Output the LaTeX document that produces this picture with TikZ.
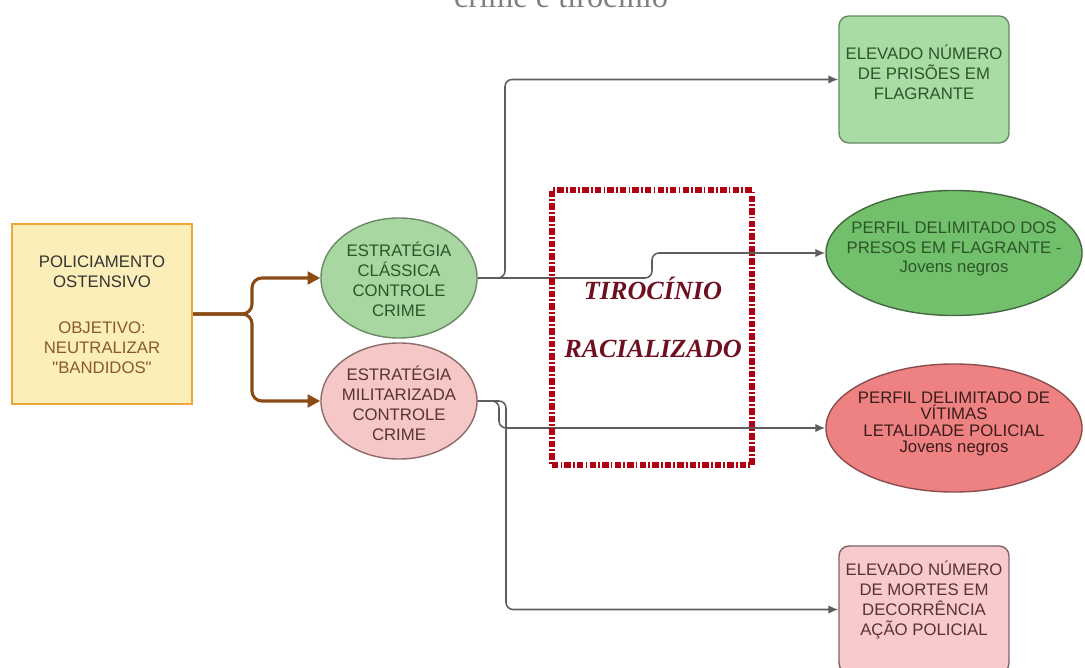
\documentclass[tikz,border=0pt]{standalone}
\usepackage{fontspec}
\setmainfont{Liberation Sans}[Ligatures=TeXOff]
\newfontfamily\serifA{Liberation Serif}
\usetikzlibrary{arrows.meta,shapes.geometric}
\definecolor{ybox}{HTML}{FCEEB8}
\definecolor{ybord}{HTML}{EFA53A}
\definecolor{brownA}{HTML}{8A4B14}
\definecolor{gfillA}{HTML}{A8D7A1}
\definecolor{gbordA}{HTML}{6A8A66}
\definecolor{pfillA}{HTML}{F6C7C7}
\definecolor{pbordA}{HTML}{8E6A6A}
\definecolor{gfillB}{HTML}{A9DCA5}
\definecolor{gfillC}{HTML}{72C06B}
\definecolor{gbordC}{HTML}{44683F}
\definecolor{rfillC}{HTML}{EE8282}
\definecolor{rbordC}{HTML}{8A4E4E}
\definecolor{pfillB}{HTML}{F8CACE}
\definecolor{pbordB}{HTML}{7E6464}
\definecolor{gtext}{HTML}{2C5628}
\definecolor{ptext}{HTML}{5A3232}
\definecolor{rtext}{HTML}{3A1C1C}
\definecolor{btext}{HTML}{8A5A2A}
\definecolor{reddash}{HTML}{B00012}
\definecolor{tirtext}{HTML}{6E1020}
\definecolor{connA}{HTML}{5E5E5E}
\tikzset{
  txt/.style={align=center,inner sep=0pt,font=\fontsize{11.9}{14.2}\selectfont},
  conn/.style={draw=connA,line width=1.1pt,rounded corners=5pt,-{Latex[length=7pt,width=6pt]}},
  bconn/.style={draw=brownA,line width=2.2pt,rounded corners=7pt,-{Triangle[length=9pt,width=9pt]}},
  shp/.style={inner sep=0pt,line width=1pt},
}
\begin{document}
\begin{tikzpicture}[x=0.025cm,y=-0.025cm]
\useasboundingbox (0,0) rectangle (1085,668);
\clip (0,0) rectangle (1085,668);
\fill[white] (0,0) rectangle (1085,668);
% title (cut off)
\node[anchor=base,text=black!50,font=\serifA\fontsize{23}{26}\selectfont,inner sep=0pt] (title) at (561,8) {crime e tirocínio};
% left box
\node[shp,draw=ybord,fill=ybox,line width=1.6pt,minimum width=4.5cm,minimum height=4.5cm] (lb) at (102,314) {};
\node[txt,text=black!80] (lbt1) at (102,272) {POLICIAMENTO\\OSTENSIVO};
\node[txt,text=btext] (lbt2) at (102,348) {OBJETIVO:\\NEUTRALIZAR\\"BANDIDOS"};
% strategy ellipses
\node[shp,ellipse,draw=gbordA,fill=gfillA,minimum width=3.9cm,minimum height=3.0cm] (gE) at (399,278) {};
\node[txt,text=gtext] (gEt) at (399,279) {ESTRATÉGIA\\CLÁSSICA\\CONTROLE\\CRIME};
\node[shp,ellipse,draw=pbordA,fill=pfillA,minimum width=3.9cm,minimum height=2.9cm] (pE) at (399,401) {};
\node[txt,text=ptext] (pEt) at (399,403) {ESTRATÉGIA\\MILITARIZADA\\CONTROLE\\CRIME};
% right side
\node[shp,draw=gbordA,fill=gfillB,rounded corners=0.25cm,minimum width=4.25cm,minimum height=3.175cm] (b1) at (924,79.5) {};
\node[txt,text=gtext] (b1t) at (924,72) {ELEVADO NÚMERO\\DE PRISÕES EM\\FLAGRANTE};
\node[shp,ellipse,draw=gbordC,fill=gfillC,minimum width=6.4cm,minimum height=3.125cm] (e3) at (954,253) {};
\node[txt,text=gtext,font=\fontsize{11.9}{13.6}\selectfont] (e3t) at (954,249) {PERFIL DELIMITADO DOS\\PRESOS EM FLAGRANTE -\\Jovens negros};
\node[shp,ellipse,draw=rbordC,fill=rfillC,minimum width=6.4cm,minimum height=3.2cm] (e4) at (954,428) {};
\node[txt,text=rtext,font=\fontsize{11.9}{11.6}\selectfont] (e4t) at (954,424) {PERFIL DELIMITADO DE\\VÍTIMAS\\LETALIDADE POLICIAL\\Jovens negros};
\node[shp,draw=pbordB,fill=pfillB,rounded corners=0.25cm,minimum width=4.25cm,minimum height=3.175cm] (b4) at (924,609.5) {};
\node[txt,text=ptext] (b4t) at (924,600) {ELEVADO NÚMERO\\DE MORTES EM\\DECORRÊNCIA\\AÇÃO POLICIAL};
% junction coordinates
\coordinate (jb) at (252,0);
\coordinate (j1) at (505,0);
\coordinate (j2) at (652,0);
\coordinate (j3) at (506,0);
\coordinate (j4) at (499,0);
% brown connectors
\draw[bconn] (lb.east) -- (lb.east -| jb) |- (gE.west);
\draw[bconn] (lb.east) -- (lb.east -| jb) |- (pE.west);
% gray connectors
\draw[conn] (gE.east) -- (gE.east -| j1) |- (b1.west);
\draw[conn] (gE.east) -- (gE.east -| j2) |- (e3.west);
\draw[conn] (pE.east) -- (pE.east -| j3) |- (b4.west);
\draw[conn] (pE.east) -- (pE.east -| j4) |- (e4.west);
% racialised box
\node[shp,draw=reddash,line width=4.2pt,dash pattern=on 4.6pt off 1.5pt on 1.3pt off 1.5pt,minimum width=5cm,minimum height=6.875cm] (rb) at (652,327.5) {};
\node[anchor=base,inner sep=0pt,text=tirtext,font=\serifA\bfseries\itshape\fontsize{18.6}{20}\selectfont] (tir1) at (653,300) {TIROCÍNIO};
\node[anchor=base,inner sep=0pt,text=tirtext,font=\serifA\bfseries\itshape\fontsize{18.6}{20}\selectfont] (tir2) at (653,358) {RACIALIZADO};
\end{tikzpicture}
\end{document}
